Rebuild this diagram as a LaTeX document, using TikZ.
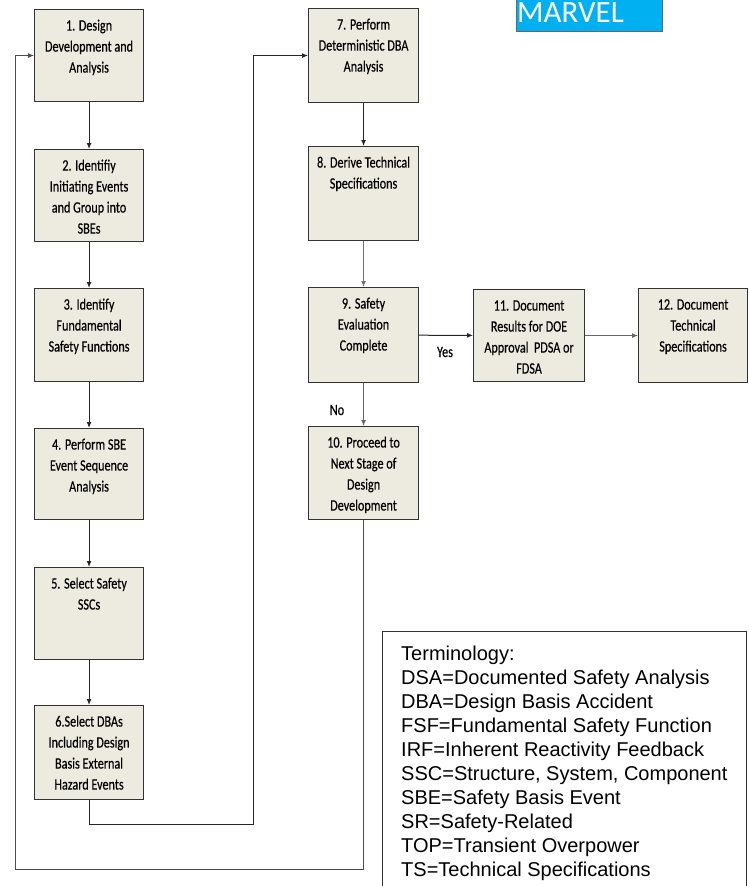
\documentclass[tikz,border=0pt]{standalone}
\usepackage{fontspec}
\setmainfont{Liberation Sans}
\newfontfamily\boxfont[FakeStretch=0.77,FakeBold=0.4]{Carlito}
\newfontfamily\marvelfont{Carlito}
\usetikzlibrary{arrows.meta}
\definecolor{boxfill}{HTML}{EDEAE0}
\definecolor{boxline}{HTML}{333333}
\definecolor{marvelblue}{HTML}{00B0F0}
\newcommand{\bxt}[3]{\parbox[t][#2][t]{#1}{\boxfont\fontsize{15.8}{21}\selectfont\centering\rule{0pt}{21pt}#3}}
\begin{document}
\begin{tikzpicture}[x=1pt,y=-1pt,
  box/.style={draw=boxline,fill=boxfill,line width=1.1pt,inner sep=0pt,anchor=north west},
  arr/.style={draw=#1, line width=1pt, -{Latex[length=6pt,width=5pt]}},
  arr/.default={black!85},
  lbl/.style={font=\boxfont\fontsize{15.8}{21}\selectfont, inner sep=0pt}]
\useasboundingbox (0,0) rectangle (749,886);

% MARVEL tag
\node[fill=marvelblue, draw=black!60, line width=0.8pt, anchor=north west, minimum width=146pt, minimum height=40pt, inner sep=0pt] (mv) at (516,-9) {};
\node[anchor=base west, text=white, font=\marvelfont\fontsize{31}{31}\selectfont, inner sep=0pt] (mvt) at (517,22) {MARVEL};

% boxes
\node[box] (b1) at (34,9)   {\bxt{109pt}{92pt}{1. Design\\Development and\\Analysis}};
\node[box] (b2) at (34,149) {\bxt{109pt}{92pt}{2. Identifiy\\Initiating Events\\and Group into\\SBEs}};
\node[box] (b3) at (34,288) {\bxt{109pt}{93pt}{3. Identify\\Fundamental\\Safety Functions}};
\node[box] (b4) at (34,428) {\bxt{109pt}{91pt}{4. Perform SBE\\Event Sequence\\Analysis}};
\node[box] (b5) at (34,567) {\bxt{109pt}{92pt}{5. Select Safety\\SSCs}};
\node[box] (b6) at (34,705) {\bxt{109pt}{94pt}{6.Select DBAs\\Including Design\\Basis External\\Hazard Events}};
\node[box] (b7) at (308,8)  {\bxt{110pt}{94pt}{7. Perform\\Deterministic DBA\\Analysis}};
\node[box] (b8) at (308,146) {\bxt{110pt}{94pt}{8. Derive Technical\\Specifications}};
\node[box] (b9) at (308,287) {\bxt{110pt}{95pt}{9. Safety\\Evaluation\\Complete}};
\node[box] (b10) at (308,426) {\bxt{110pt}{93pt}{10. Proceed to\\Next Stage of\\Design\\Development}};
\node[box] (b11) at (473,289) {\bxt{111pt}{92pt}{11. Document\\Results for DOE\\Approval \ PDSA or\\FDSA}};
\node[box] (b12) at (638,288) {\bxt{109pt}{94pt}{12. Document\\Technical\\Specifications}};

% labels
\node[lbl] (yes) at (445,352) {Yes};
\node[lbl] (no) at (337,410) {No};

% connectors
\coordinate (L1) at (253,824);
\coordinate (L2) at (15,869);
\draw[arr] (b1) -- (b2);
\draw[arr] (b2) -- (b3);
\draw[arr] (b3) -- (b4);
\draw[arr] (b4) -- (b5);
\draw[arr] (b5) -- (b6);
\draw[arr] (b6.south) |- (L1) |- (b7.west);
\draw[arr] (b7) -- (b8);
\draw[arr={black!55}] (b8) -- (b9);
\draw[arr] (b9) -- (b11);
\draw[arr={black!60}] (b11) -- (b12);
\draw[arr={black!60}] (b9) -- (b10);
\draw[arr={black!70}] (b10.south) |- (L2) |- (b1.west);

% terminology
\draw[line width=1pt, draw=black!80] (382,890) -- (382,631) -- (746,631) -- (746,890);
\node[anchor=north west, inner sep=0pt] (term) at (401,640) {\parbox[t]{345pt}{\fontsize{20}{24}\selectfont\rule{0pt}{20pt}Terminology:\\
DSA=Documented Safety Analysis\\
DBA=Design Basis Accident\\
FSF=Fundamental Safety Function\\
IRF=Inherent Reactivity Feedback\\
SSC=Structure, System, Component\\
SBE=Safety Basis Event\\
SR=Safety-Related\\
TOP=Transient Overpower\\
TS=Technical Specifications}};
\end{tikzpicture}
\end{document}
